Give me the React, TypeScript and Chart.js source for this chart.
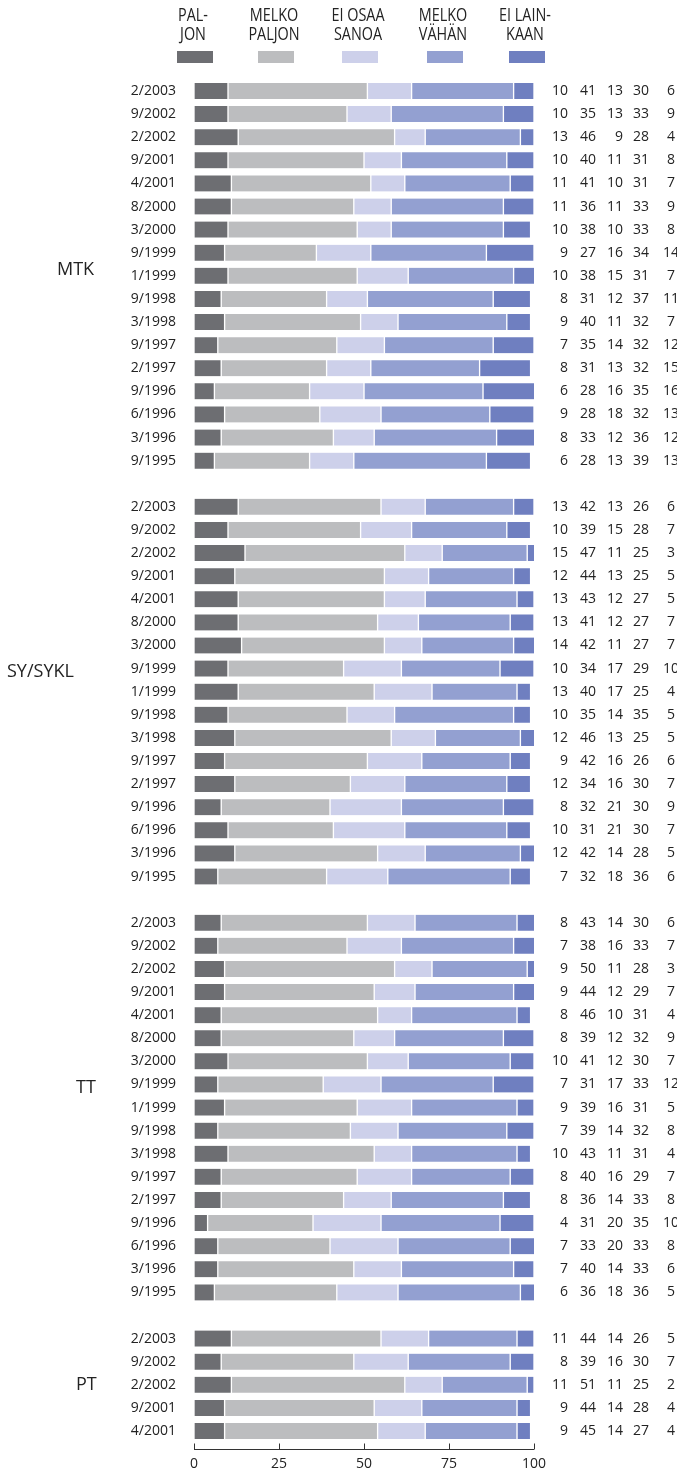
import React, { useEffect, useRef } from 'react';
import { Chart, registerables } from 'chart.js';

Chart.register(...registerables);

// ---------- DATA ----------
const seriesLabels: string[][] = [
  ['PAL-', 'JON'],
  ['MELKO', 'PALJON'],
  ['EI OSAA', 'SANOA'],
  ['MELKO', 'VÄHÄN'],
  ['EI LAIN-', 'KAAN'],
];
const seriesColors = ['#6d6e72', '#bcbdbf', '#cdd0ea', '#93a0d1', '#6f7fc0'];

const groupNames = ['MTK', 'SY/SYKL', 'TT', 'PT'];

const periods = [
  '2/2003', '9/2002', '2/2002', '9/2001', '4/2001', '8/2000', '3/2000', '9/1999', '1/1999',
  '9/1998', '3/1998', '9/1997', '2/1997', '9/1996', '6/1996', '3/1996', '9/1995',
];
const ptPeriods = ['2/2003', '9/2002', '2/2002', '9/2001', '4/2001'];

const mtk = [
  [10, 41, 13, 30, 6], [10, 35, 13, 33, 9], [13, 46, 9, 28, 4], [10, 40, 11, 31, 8],
  [11, 41, 10, 31, 7], [11, 36, 11, 33, 9], [10, 38, 10, 33, 8], [9, 27, 16, 34, 14],
  [10, 38, 15, 31, 7], [8, 31, 12, 37, 11], [9, 40, 11, 32, 7], [7, 35, 14, 32, 12],
  [8, 31, 13, 32, 15], [6, 28, 16, 35, 16], [9, 28, 18, 32, 13], [8, 33, 12, 36, 12],
  [6, 28, 13, 39, 13],
];
const sySykl = [
  [13, 42, 13, 26, 6], [10, 39, 15, 28, 7], [15, 47, 11, 25, 3], [12, 44, 13, 25, 5],
  [13, 43, 12, 27, 5], [13, 41, 12, 27, 7], [14, 42, 11, 27, 7], [10, 34, 17, 29, 10],
  [13, 40, 17, 25, 4], [10, 35, 14, 35, 5], [12, 46, 13, 25, 5], [9, 42, 16, 26, 6],
  [12, 34, 16, 30, 7], [8, 32, 21, 30, 9], [10, 31, 21, 30, 7], [12, 42, 14, 28, 5],
  [7, 32, 18, 36, 6],
];
const tt = [
  [8, 43, 14, 30, 6], [7, 38, 16, 33, 7], [9, 50, 11, 28, 3], [9, 44, 12, 29, 7],
  [8, 46, 10, 31, 4], [8, 39, 12, 32, 9], [10, 41, 12, 30, 7], [7, 31, 17, 33, 12],
  [9, 39, 16, 31, 5], [7, 39, 14, 32, 8], [10, 43, 11, 31, 4], [8, 40, 16, 29, 7],
  [8, 36, 14, 33, 8], [4, 31, 20, 35, 10], [7, 33, 20, 33, 8], [7, 40, 14, 33, 6],
  [6, 36, 18, 36, 5],
];
const pt = [
  [11, 44, 14, 26, 5], [8, 39, 16, 30, 7], [11, 51, 11, 25, 2], [9, 44, 14, 28, 4],
  [9, 45, 14, 27, 4],
];

const xTicks = [0, 25, 50, 75, 100];

// ---------- LAYOUT / STYLE ----------
const W = 677;
const H = 1471;
const FONT = '"Open Sans", "Noto Sans", sans-serif';
const TEXT = '#232323';
const legendSwatchX = [177, 258, 342, 427, 509];
const groupLabelX = [57, 7, 76, 76];
const groupLabelRow = [7.75, 7.14, 7.14, 2.0];
const numColX = [568, 596, 623, 649, 671];

type Row = { label: string; values: number[] | null; group: number };

const groupData = [
  { periods, values: mtk },
  { periods, values: sySykl },
  { periods, values: tt },
  { periods: ptPeriods, values: pt },
];

const rows: Row[] = [];
const groupStart: number[] = [];
groupData.forEach((g, gi) => {
  if (gi > 0) rows.push({ label: '', values: null, group: -1 });
  groupStart.push(rows.length);
  g.periods.forEach((p, i) => rows.push({ label: p, values: g.values[i], group: gi }));
});

const overlayPlugin = {
  id: 'overlay',
  afterDraw(chart: any) {
    const { ctx, chartArea, scales } = chart;
    const xs = scales.x;
    const ys = scales.y;
    ctx.save();

    // legend
    ctx.textAlign = 'center';
    ctx.textBaseline = 'alphabetic';
    seriesLabels.forEach((lines, i) => {
      const cx = legendSwatchX[i] + 18 - 2;
      lines.forEach((t, li) => {
        ctx.save();
        ctx.translate(cx, 21 + li * 19);
        ctx.scale(0.8, 1);
        ctx.font = `18px ${FONT}`;
        ctx.fillStyle = TEXT;
        ctx.fillText(t, 0, 0);
        ctx.restore();
      });
      ctx.fillStyle = seriesColors[i];
      ctx.fillRect(legendSwatchX[i], 51, 36, 12);
    });

    // group labels
    ctx.fillStyle = TEXT;
    ctx.font = `18px ${FONT}`;
    ctx.textAlign = 'left';
    ctx.textBaseline = 'middle';
    groupNames.forEach((name, gi) => {
      const y = ys.getPixelForValue(groupStart[gi] + groupLabelRow[gi]);
      ctx.fillText(name, groupLabelX[gi], y);
    });

    // right-hand numbers
    ctx.font = `14px ${FONT}`;
    rows.forEach((r, i) => {
      if (!r.values) return;
      const y = ys.getPixelForValue(i);
      r.values.forEach((v, k) => {
        ctx.textAlign = k === 4 ? 'center' : 'right';
        ctx.fillText(String(v), numColX[k], y);
      });
    });

    // x axis line with inward ticks
    const ay = Math.round(chartArea.bottom + 6) + 0.5;
    ctx.strokeStyle = '#333';
    ctx.lineWidth = 1;
    ctx.beginPath();
    ctx.moveTo(xs.getPixelForValue(0), ay);
    ctx.lineTo(xs.getPixelForValue(100), ay);
    xTicks.forEach((t) => {
      const px = Math.round(xs.getPixelForValue(t)) + 0.5;
      ctx.moveTo(px, ay);
      ctx.lineTo(px, ay - 6);
    });
    ctx.stroke();
    ctx.restore();
  },
};

export default function App() {
  const ref = useRef<HTMLCanvasElement | null>(null);

  useEffect(() => {
    if (!ref.current) return;
    const chart = new Chart(ref.current, {
      type: 'bar',
      data: {
        labels: rows.map((r) => r.label),
        datasets: seriesLabels.map((l, s) => ({
          label: l.join(' ').replace('- ', ''),
          data: rows.map((r) => (r.values ? r.values[s] : null)),
          backgroundColor: seriesColors[s],
          borderColor: '#ffffff',
          borderWidth: { left: 1, right: 1, top: 0, bottom: 0 },
          borderSkipped: false,
          barThickness: 16,
        })),
      },
      options: {
        indexAxis: 'y',
        animation: false,
        responsive: false,
        devicePixelRatio: 1,
        layout: { padding: { top: 79.45, right: W - 534, left: 0, bottom: 0 } },
        plugins: {
          legend: { display: false },
          tooltip: { enabled: false },
        },
        scales: {
          x: {
            stacked: true,
            min: 0,
            max: 100,
            grid: { display: false, drawTicks: false },
            border: { display: false },
            afterBuildTicks: (scale: any) => {
              scale.ticks = xTicks.map((v) => ({ value: v }));
            },
            afterFit: (scale: any) => {
              scale.height = 28.45;
            },
            ticks: {
              padding: 13,
              color: TEXT,
              font: { family: FONT, size: 14 },
              maxRotation: 0,
            },
          },
          y: {
            stacked: true,
            grid: { display: false, drawTicks: false },
            border: { display: false },
            afterFit: (scale: any) => {
              scale.width = 194;
            },
            ticks: {
              padding: 18,
              color: TEXT,
              autoSkip: false,
              font: { family: FONT, size: 14 },
            },
          },
        },
      },
      plugins: [overlayPlugin],
    });
    return () => chart.destroy();
  }, []);

  return (
    <div style={{ position: 'absolute', left: 0, top: 0, width: W, height: H, background: '#fff' }}>
      <canvas ref={ref} width={W} height={H} style={{ display: 'block', width: W, height: H }} />
    </div>
  );
}
